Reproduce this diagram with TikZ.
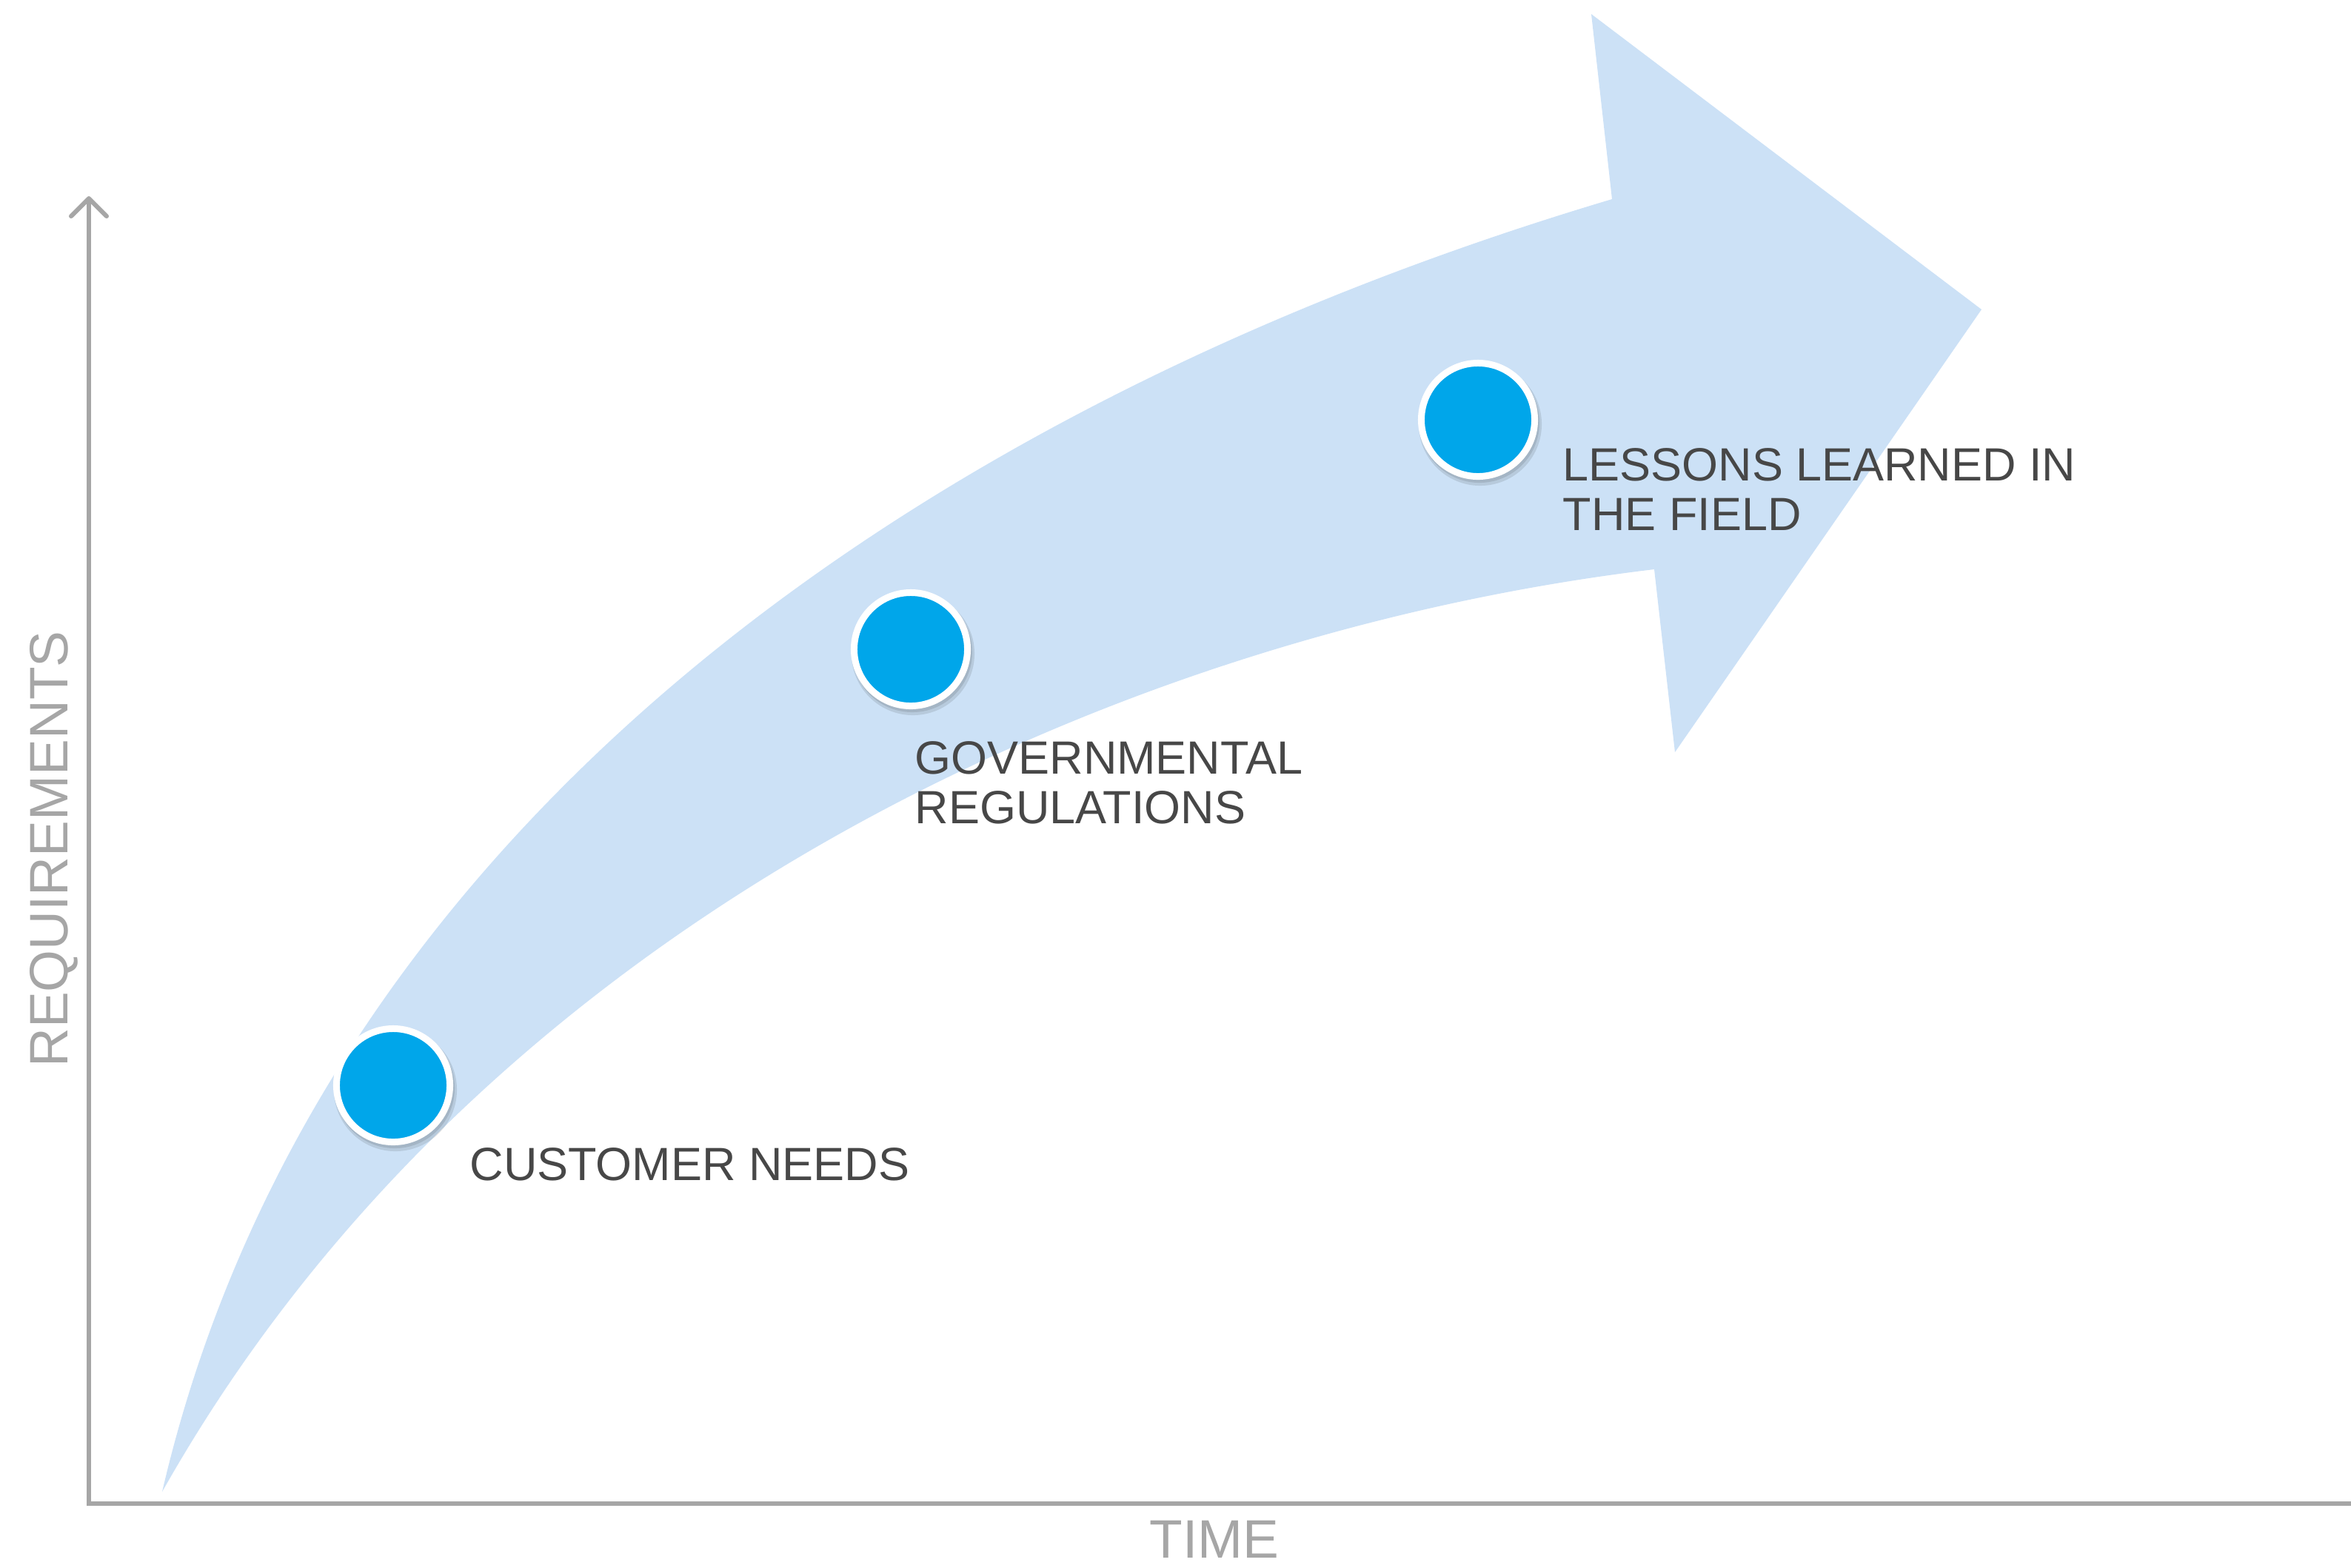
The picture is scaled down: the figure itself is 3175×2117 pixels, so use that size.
\documentclass[tikz,border=0pt]{standalone}
\usepackage{fontspec}
\setmainfont{Liberation Sans}
\usetikzlibrary{arrows.meta,calc}
\definecolor{arrowfill}{RGB}{204,225,246}
\definecolor{dotblue}{RGB}{0,166,234}
\definecolor{labeltext}{RGB}{71,71,71}
\definecolor{axisgray}{RGB}{166,166,166}
\begin{document}
\begin{tikzpicture}[x=0.01cm,y=-0.01cm,
  axisline/.style={draw=axisgray, line width=0.06cm, line join=miter},
  dotnode/.style={circle, fill=dotblue, draw=white, line width=0.09cm, minimum size=1.53cm, inner sep=0pt},
  dotshadow/.style={fill=black, opacity=0.10},
  steplabel/.style={text=labeltext, font=\fontsize{17.9}{19}\selectfont, align=left, inner sep=0pt, anchor=base west},
  axislabel/.style={text=axisgray, font=\fontsize{20.8}{22}\selectfont, inner sep=0pt, anchor=base}]
\useasboundingbox (0,0) rectangle (3175,2117);

% big curved arrow
\fill[arrowfill] (219,2015) .. controls (420,1150) and (1200,560) .. (2177,269)
  -- (2149,19) -- (2676,418) -- (2262,1016) -- (2234,769)
  .. controls (1500,857) and (650,1250) .. (219,2015) -- cycle;

% axes
\coordinate (ytop) at (120,265);
\coordinate (orig) at (120,2031);
\coordinate (xend) at (3175,2031);
\draw[axisline, {Straight Barb[round,length=0.24cm,width=0.48cm]}-] (ytop) -- (orig) -- (xend);

% milestone dots
\coordinate (p1) at (531,1466);
\coordinate (p2) at (1230,877);
\coordinate (p3) at (1996,567);
\foreach \p in {p1,p2,p3}{
  \fill[dotshadow] ($(\p)+(3,6)$) circle (0.83cm);
  \fill[dotshadow] ($(\p)+(2,4)$) circle (0.81cm);
}
\node[dotnode] (c1) at (p1) {};
\node[dotnode] (c2) at (p2) {};
\node[dotnode] (c3) at (p3) {};

% labels (base anchor = baseline of the last line)
\node[steplabel] (l1) at (634,1594) {CUSTOMER NEEDS};
\node[steplabel] (l2) at (1235,1112) {GOVERNMENTAL\\REGULATIONS};
\node[steplabel] (l3) at (2110,716) {LESSONS LEARNED IN\\THE FIELD};
\node[axislabel] (tl) at (1640,2104) {TIME};
\node[axislabel, rotate=90] (rl) at (91,1147) {REQUIREMENTS};
\end{tikzpicture}
\end{document}
